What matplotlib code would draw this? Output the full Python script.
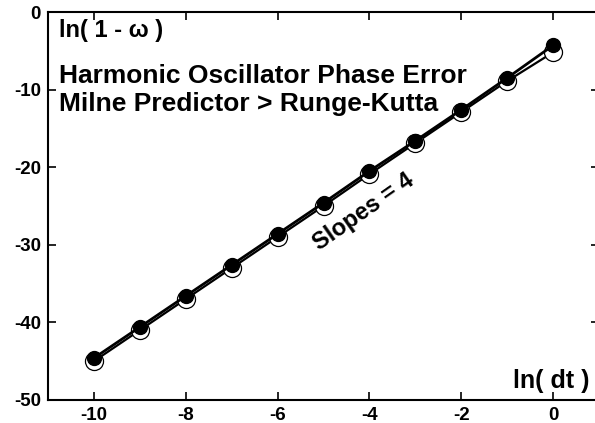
import matplotlib
matplotlib.use("Agg")
import matplotlib.pyplot as plt

plt.rcParams['font.family'] = ['Liberation Sans', 'DejaVu Sans']
plt.rcParams['font.weight'] = 'bold'
plt.rcParams['axes.unicode_minus'] = False

ln_dt = [-10, -9, -8, -7, -6, -5, -4, -3, -2, -1, 0]
milne = [-44.6, -40.6, -36.6, -32.6, -28.6, -24.6, -20.5, -16.6, -12.6, -8.5, -4.3]
runge_kutta = [-45.0, -41.0, -37.0, -33.0, -29.0, -25.0, -20.9, -16.9, -12.9, -8.9, -5.2]

fig = plt.figure(figsize=(5.95, 4.23), dpi=100)
ax = fig.add_axes([0.0807, 0.0544, 0.926, 0.9172])

ax.plot(ln_dt, runge_kutta, color='black', lw=1.6, marker='o', ms=13,
        mfc='white', mec='black', mew=0.9, zorder=2)
ax.plot(ln_dt, milne, color='black', lw=2.0, marker='o', ms=10,
        mfc='black', mec='black', zorder=3)

ax.set_xlim(-11, 1)
ax.set_ylim(-50, 0)
ax.set_xticks([-10, -8, -6, -4, -2, 0])
ax.set_yticks([0, -10, -20, -30, -40, -50])
ax.tick_params(direction='in', length=6, width=1.2, labelsize=13.5, pad=5,
               top=True, right=True)
for s in ax.spines.values():
    s.set_linewidth(1.5)

ax.text(-10.76, -3.2, 'ln( 1 - ω )', fontsize=17, fontweight='bold',
        va='baseline', ha='left')
ax.text(-10.76, -9.15, 'Harmonic Oscillator Phase Error', fontsize=19,
        fontweight='bold', va='baseline', ha='left')
ax.text(-10.76, -12.75, 'Milne Predictor > Runge-Kutta', fontsize=19,
        fontweight='bold', va='baseline', ha='left')
ax.text(-4.13, -25.8, 'Slopes = 4', rotation=35, fontsize=17, fontweight='bold',
        ha='center', va='center', rotation_mode='anchor')
ax.text(0.80, -48.5, 'ln( dt )', fontsize=18, fontweight='bold',
        ha='right', va='baseline')

fig.savefig('out.png', dpi=100)
